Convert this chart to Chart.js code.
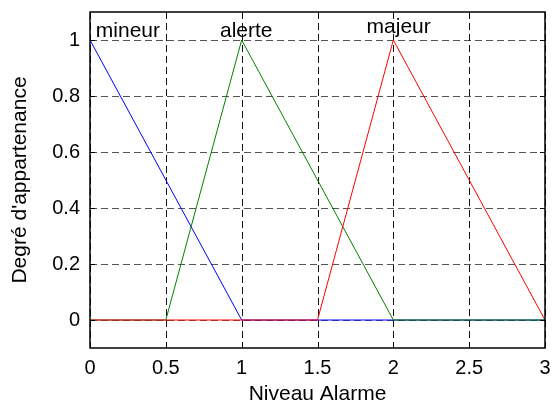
<!DOCTYPE html>
<html>
<head>
<meta charset="utf-8">
<script src="https://cdn.jsdelivr.net/npm/chart.js@4/dist/chart.umd.min.js"></script>
<style>
  html, body { margin: 0; padding: 0; background: #fff; }
  #wrap { width: 554px; height: 407px; }
</style>
</head>
<body>
<div id="wrap"><canvas id="c" width="554" height="407"></canvas></div>
<script>
// niveau d'alarme (x) et degres d'appartenance
const niveaux = [0, 0.5, 1, 1.5, 2, 2.5, 3];
const mineur  = [1, 0.5, 0, 0, 0, 0, 0];
const alerte  = [0, 0, 1, 0.5, 0, 0, 0];
const majeur  = [0, 0, 0, 0, 1, 0.5, 0];

const xTicks = [0, 0.5, 1, 1.5, 2, 2.5, 3];
const yTicks = [0, 0.2, 0.4, 0.6, 0.8, 1];

// etiquettes dans le graphique
const labelNames = ['mineur', 'alerte', 'majeur'];
const labelX = [0.25, 1.03, 2.035];
const labelY = [1.03, 1.03, 1.045];

const FONT = "'Liberation Sans', Arial, Helvetica, sans-serif";

const toPts = (ys) => niveaux.map((x, i) => ({ x: x, y: ys[i] }));

// no extra label overflow padding, the layout padding sets the plot box
const noOverflow = (s) => {
  s.paddingTop = 0; s.paddingBottom = 0; s.paddingLeft = 0; s.paddingRight = 0;
};

// grid, box and inward ticks, MATLAB style
const frame = {
  id: 'frame',
  beforeDatasetsDraw(chart) {
    const { ctx, chartArea: a, scales: { x, y } } = chart;
    ctx.save();
    ctx.lineWidth = 1;
    ctx.setLineDash([7, 4]);
    ctx.strokeStyle = '#555';
    yTicks.forEach(v => {
      const py = Math.round(y.getPixelForValue(v)) + 0.5;
      ctx.beginPath(); ctx.moveTo(a.left, py); ctx.lineTo(a.right, py); ctx.stroke();
    });
    ctx.strokeStyle = '#111';
    xTicks.forEach(v => {
      const px = Math.round(x.getPixelForValue(v)) + 0.5;
      ctx.beginPath(); ctx.moveTo(px, a.top); ctx.lineTo(px, a.bottom); ctx.stroke();
    });
    ctx.restore();
  },
  afterDatasetsDraw(chart) {
    const { ctx, chartArea: a, scales: { x, y } } = chart;
    ctx.save();
    ctx.strokeStyle = '#000';
    ctx.lineWidth = 1;
    ctx.setLineDash([]);
    const t = 5;
    xTicks.forEach(v => {
      const px = Math.round(x.getPixelForValue(v)) + 0.5;
      ctx.beginPath();
      ctx.moveTo(px, a.bottom); ctx.lineTo(px, a.bottom - t);
      ctx.moveTo(px, a.top); ctx.lineTo(px, a.top + t);
      ctx.stroke();
    });
    yTicks.forEach(v => {
      const py = Math.round(y.getPixelForValue(v)) + 0.5;
      ctx.beginPath();
      ctx.moveTo(a.left, py); ctx.lineTo(a.left + t, py);
      ctx.moveTo(a.right, py); ctx.lineTo(a.right - t, py);
      ctx.stroke();
    });
    ctx.lineWidth = 1.5;
    ctx.strokeRect(a.left, a.top, a.right - a.left, a.bottom - a.top);

    // text labels
    ctx.fillStyle = '#000';
    ctx.font = '21px ' + FONT;
    ctx.textAlign = 'center';
    ctx.textBaseline = 'middle';
    labelNames.forEach((s, i) => {
      ctx.fillText(s, x.getPixelForValue(labelX[i]), y.getPixelForValue(labelY[i]));
    });
    ctx.restore();
  }
};

new Chart(document.getElementById('c'), {
  type: 'line',
  data: {
    datasets: [
      { label: 'mineur', data: toPts(mineur), borderColor: '#0000ff', order: 2 },
      { label: 'alerte', data: toPts(alerte), borderColor: '#008000', order: 1 },
      { label: 'majeur', data: toPts(majeur), borderColor: '#ff0000', order: 0 }
    ].map(d => Object.assign(d, { borderWidth: 1, pointRadius: 0, tension: 0, fill: false }))
  },
  options: {
    responsive: false,
    animation: false,
    layout: { padding: { top: 12, right: 9, left: 0, bottom: 0 } },
    plugins: { legend: { display: false }, tooltip: { enabled: false } },
    scales: {
      x: {
        type: 'linear',
        min: 0, max: 3,
        grid: { display: false, drawTicks: false },
        border: { display: false },
        afterBuildTicks: (s) => { s.ticks = xTicks.map(v => ({ value: v })); },
        afterFit: (s) => { s.height = 59; noOverflow(s); },
        ticks: { color: '#000', font: { family: FONT, size: 20 }, padding: 8, maxRotation: 0,
                 callback: (v) => String(v) },
        title: { display: true, text: 'Niveau Alarme', color: '#000',
                 font: { family: FONT, size: 21 }, padding: { top: 0, bottom: 0 } }
      },
      y: {
        min: -0.1, max: 1.1,
        grid: { display: false, drawTicks: false },
        border: { display: false },
        afterBuildTicks: (s) => { s.ticks = yTicks.map(v => ({ value: v })); },
        afterFit: (s) => { s.width = 90; noOverflow(s); },
        ticks: { color: '#000', font: { family: FONT, size: 20 }, padding: 10,
                 callback: (v) => String(+v.toFixed(1)) },
        title: { display: true, text: "Degré d'appartenance", color: '#000',
                 font: { family: FONT, size: 21 }, padding: { top: 8, bottom: 0 } }
      }
    }
  },
  plugins: [frame]
});
</script>
</body>
</html>
